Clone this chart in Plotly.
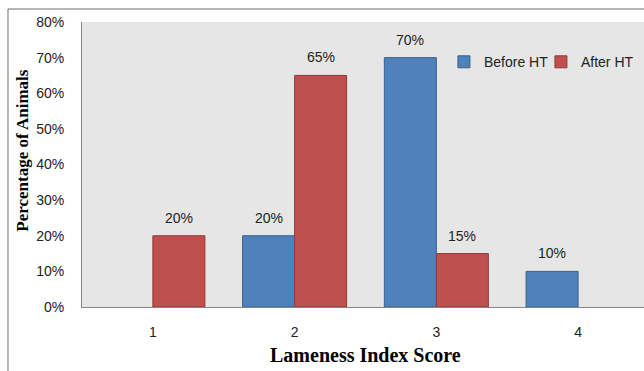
import plotly.graph_objects as go

# Lameness index score distribution before and after hoof trimming
scores = [1, 2, 3, 4]
before_ht = [0, 20, 70, 10]
after_ht = [20, 65, 15, 0]
y_ticks = [0, 10, 20, 30, 40, 50, 60, 70, 80]

BLUE, BLUE_EDGE = "#4F81BD", "#3A5F8B"
RED, RED_EDGE = "#C0504D", "#8E3B39"
TICK_FONT = dict(family="Liberation Sans, Arial, sans-serif", size=14, color="#222")
TITLE_FONT = "Liberation Serif, Times New Roman, serif"

bargap = 0.266
bar_w = (1 - bargap) / 2


def shown(vals):
    return [v if v else None for v in vals]


fig = go.Figure()
fig.add_trace(go.Bar(
    x=scores, y=shown(before_ht), name="Before HT",
    marker=dict(color=BLUE, line=dict(color=BLUE_EDGE, width=1)),
))
fig.add_trace(go.Bar(
    x=scores, y=shown(after_ht), name="After HT",
    marker=dict(color=RED, line=dict(color=RED_EDGE, width=1)),
))

# value labels above each bar
annotations = []
for vals, side in ((before_ht, -1), (after_ht, 1)):
    for s, v in zip(scores, vals):
        if v:
            annotations.append(dict(
                x=s + side * bar_w / 2, y=v, text=f"{v}%",
                showarrow=False, yanchor="bottom", yshift=8,
                font=TICK_FONT,
            ))

# axis titles
annotations.append(dict(
    text="<b>Percentage of Animals</b>", textangle=-90,
    xref="paper", yref="paper", x=-0.106, y=0.55,
    xanchor="center", yanchor="middle",
    showarrow=False, font=dict(family=TITLE_FONT, size=17, color="#000"),
))
annotations.append(dict(
    text="<b>Lameness Index Score</b>",
    xref="paper", yref="paper", x=0.505, y=-0.17,
    showarrow=False, xanchor="center", yanchor="middle",
    font=dict(family=TITLE_FONT, size=20, color="#000"),
))

fig.update_layout(
    width=644, height=371,
    margin=dict(l=82, r=0, t=22, b=64, autoexpand=False),
    paper_bgcolor="white",
    plot_bgcolor="#E6E6E6",
    barmode="group", bargap=bargap, bargroupgap=0,
    showlegend=True,
    legend=dict(
        orientation="h", x=0.644, y=0.915, xanchor="left", yanchor="top",
        bgcolor="rgba(0,0,0,0)", font=TICK_FONT,
        entrywidth=52, entrywidthmode="pixels",
        itemclick=False, traceorder="normal",
    ),
    xaxis=dict(
        range=[0.5, 4.465], tickmode="array", tickvals=scores,
        ticktext=[str(s) for s in scores], showgrid=False, zeroline=False,
        showline=True, linecolor="#868686", linewidth=1, ticks="",
        tickfont=TICK_FONT, ticklabelstandoff=12, fixedrange=True,
    ),
    yaxis=dict(
        range=[0, 80], tickmode="array", tickvals=y_ticks,
        ticktext=[f"{t}%" for t in y_ticks], showgrid=False, zeroline=False,
        showline=True, linecolor="#868686", linewidth=1, ticks="",
        tickfont=TICK_FONT, ticklabelstandoff=14, fixedrange=True,
    ),
    annotations=annotations,
    shapes=[dict(
        type="rect", xref="paper", yref="paper",
        x0=-0.1317, y0=-0.3, x1=1.05, y1=1.0456,
        line=dict(color="#6E6E6E", width=1), layer="below",
    )],
)

fig.write_html("out.html", config={"displayModeBar": False})
